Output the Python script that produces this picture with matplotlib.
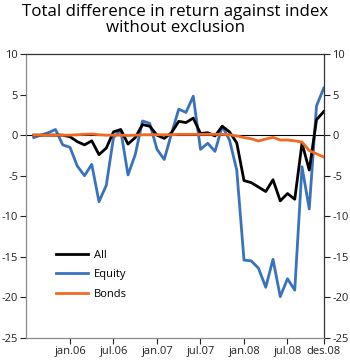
import numpy as np
import matplotlib
matplotlib.use("Agg")
import matplotlib.pyplot as plt

# --- DATA (monthly, aug.05 - des.08) ---
months = np.arange(1, 42)  # 0 = jul.05

all_ret = [0.0, 0.0, 0.0, 0.0, 0.0, -0.2, -0.8, -1.2, -0.7, -2.4,
           -1.6, 0.4, 0.7, -1.1, -0.3, 1.3, 1.1, 0.0, -0.4, 0.3,
           1.7, 1.55, 2.1, 0.2, 0.3, -0.1, 1.1, 0.4, -0.95, -5.6,
           -5.85, -6.4, -6.95, -5.5, -8.1, -7.2, -7.9, -1.0, -4.3, 1.9,
           2.9]
equity = [-0.3, 0.0, 0.3, 0.7, -1.2, -1.5, -3.8, -5.0, -3.6, -8.2,
          -6.2, -0.3, 0.6, -4.9, -2.4, 1.75, 1.45, -1.75, -3.0, 0.2,
          3.2, 2.8, 4.8, -1.75, -1.0, -2.0, 1.1, -0.6, -4.3, -15.4,
          -15.5, -16.4, -18.75, -15.3, -19.9, -17.7, -19.1, -3.9, -9.1, 3.6,
          5.8]
bonds = [0.0, 0.0, 0.0, 0.0, 0.0, 0.0, 0.05, 0.1, 0.15, 0.05,
         0.0, 0.0, 0.0, -0.05, 0.0, 0.05, 0.05, 0.05, 0.05, 0.05,
         0.1, 0.1, 0.1, 0.1, 0.1, 0.1, 0.1, 0.05, -0.1, -0.3,
         -0.45, -0.72, -0.48, -0.27, -0.6, -0.6, -0.7, -0.85, -1.9, -2.3,
         -2.7]

tick_pos = [6, 12, 18, 24, 30, 36, 41]
tick_labels = ["jan.06", "jul.06", "jan.07", "jul.07", "jan.08", "jul.08", "des.08"]
y_ticks = [10, 5, 0, -5, -10, -15, -20, -25]

plt.rcParams['font.family'] = ['Open Sans', 'DejaVu Sans']

fig = plt.figure(figsize=(3.5, 3.6), dpi=100)
ax = fig.add_axes([0.0757, 0.0611, 0.8493, 0.7889])

ax.axhline(0, color='black', lw=0.8, zorder=1)
l_eq, = ax.plot(months, equity, color='#3a72bd', lw=2.0, label='Equity', zorder=2)
l_all, = ax.plot(months, all_ret, color='black', lw=2.0, label='All', zorder=3)
l_bd, = ax.plot(months, bonds, color='#f26a21', lw=2.0, label='Bonds', zorder=4)

ax.set_xlim(0, 41)
ax.set_ylim(-25, 10)
ax.set_yticks(y_ticks)
ax.set_yticklabels([str(v) for v in y_ticks])
ax.set_xticks(tick_pos)
ax.set_xticklabels(tick_labels)

ax.tick_params(axis='both', direction='out', length=4, width=0.8,
               labelsize=8, colors='#222222', pad=2)
ax.tick_params(axis='y', right=True, labelright=True)
for side in ['left', 'bottom']:
    ax.spines[side].set_color('#8a8a8a')
for side in ['top', 'right']:
    ax.spines[side].set_color('#333333')
for s in ax.spines.values():
    s.set_linewidth(0.9)

ax.legend(handles=[l_all, l_eq, l_bd], loc='upper left',
          bbox_to_anchor=(0.1, 0.31), frameon=False, fontsize=8,
          handlelength=2.9, handletextpad=0.5, labelspacing=0.75,
          borderpad=0, borderaxespad=0)

fig.suptitle("Total difference in return against index\nwithout exclusion",
             fontsize=12.2, y=0.988, linespacing=1.0)

fig.savefig("out.png", dpi=100)
